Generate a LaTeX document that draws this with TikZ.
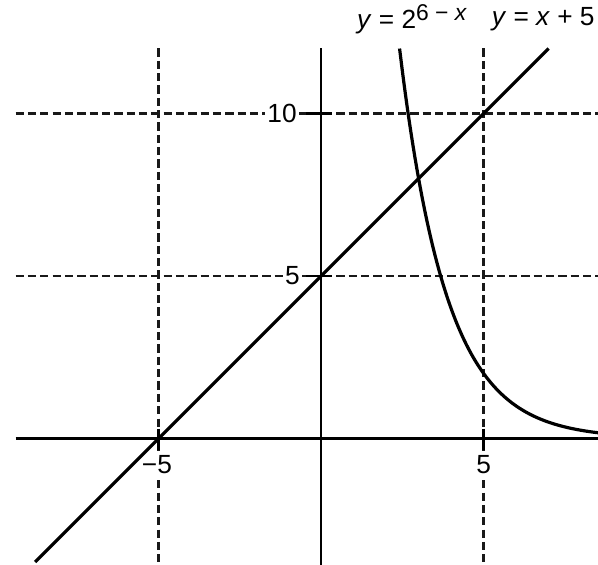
\documentclass[tikz,border=0pt]{standalone}
\usepackage{fontspec}
\setmainfont{Liberation Sans}
\usepackage{tikz}
\usetikzlibrary{positioning}

\newcommand{\expo}[1]{\raisebox{0.55ex}{\fontsize{10}{12}\selectfont #1}}

\begin{document}
\begin{tikzpicture}[x=0.5cm, y=0.5cm,
        every node/.style={font=\fontsize{11.5}{14}\selectfont},
        axisline/.style={line width=1pt, black},
        gridline/.style={line width=1pt, black!90, dash pattern=on 3.6pt off 1.8pt},
        graph/.style={line width=1.4pt, black},
        tickmark/.style={line width=1.2pt, black},
        lbl/.style={inner sep=1pt, fill=white}
    ]
        \useasboundingbox (-9.88,-3.89) rectangle (8.52,13.49);

        % Dashed grid
        \draw[gridline] (-5,12.0) -- (-5,-3.89);
        \draw[gridline] (5,12.0) -- (5,-3.89);
        \draw[gridline] (-9.4,10) -- (8.52,10);
        \draw[gridline] (-9.4,5) -- (8.52,5);

        % Axes
        \draw[axisline] (-9.4,0) -- (8.52,0);
        \draw[axisline] (0,12.0) -- (0,-3.89);

        % Tick labels
        \node[lbl] (ten)    at (-1.2,10)    {10};
        \node[lbl] (fivey)  at (-0.88,5)    {5};
        \node[lbl] (mfivex) at (-5.05,-0.8) {−5};
        \node[lbl] (fivex)  at (5,-0.8)     {5};

        % Ticks
        \draw[tickmark] (-0.45,10) -- (0.35,10);
        \draw[tickmark] (-0.45,5) -- (0.35,5);
        \draw[tickmark] (-5,0.3) -- (-5,-0.35);
        \draw[tickmark] (5,0.3) -- (5,-0.35);

        % Graphs
        \draw[graph] (-8.8,-3.8) -- (7.0,12.0);
        \draw[graph, domain=2.415:8.6, samples=80, smooth] plot (\x, {2^(6-\x)});

        % Graph labels
        \node[lbl, fill=none] (expolbl) at (2.8,12.9) {\textit{y} = 2\expo{6 − \textit{x}}};
        \node[lbl, fill=none, anchor=east] (linelbl) at (8.5,12.9) {\textit{y} = \textit{x} + 5};
    \end{tikzpicture}
\end{document}
